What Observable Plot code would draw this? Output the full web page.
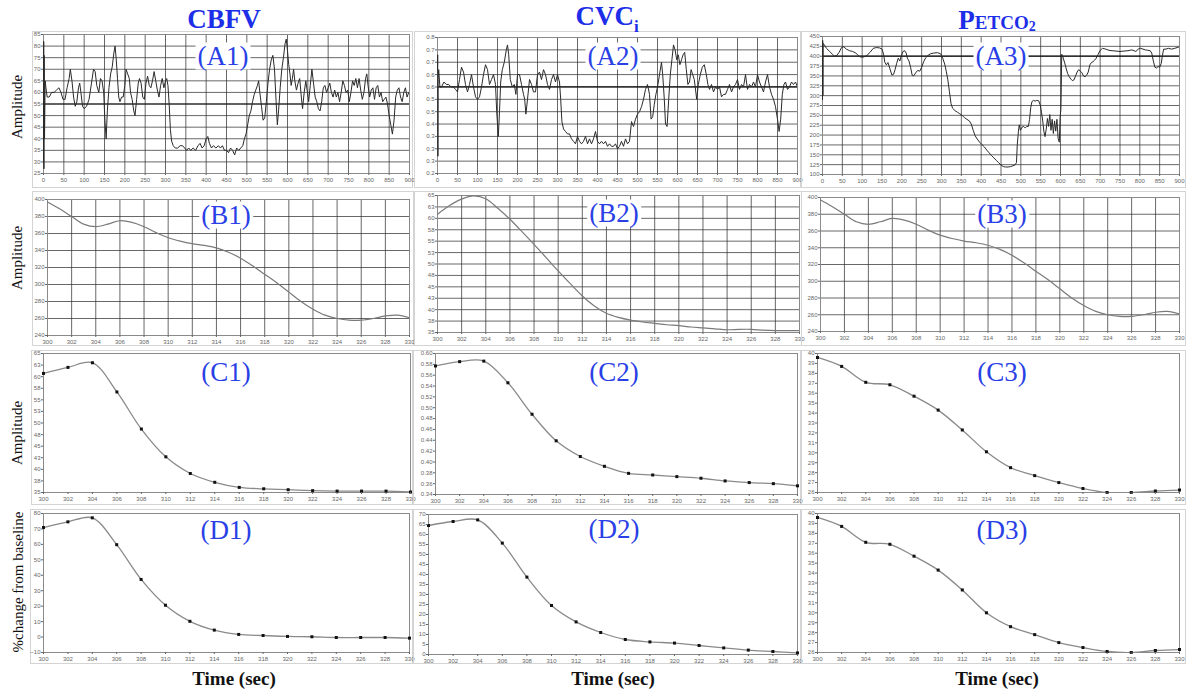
<!DOCTYPE html>
<html>
<head>
<meta charset="utf-8">
<script src="https://cdn.jsdelivr.net/npm/d3@7"></script>
<script src="https://cdn.jsdelivr.net/npm/@observablehq/plot@0.6"></script>
<style>
  body { margin: 0; background: #fff; }
  #fig { position: relative; width: 1187px; height: 689px; overflow: hidden; background: #fff;
         font-family: "Liberation Serif", "Times New Roman", serif; }
  .box { position: absolute; border: 1px solid #d4d4d4; box-sizing: border-box; }
  .panel { position: absolute; }
  .ctr { position: absolute; transform: translate(-50%, -50%); white-space: nowrap; line-height: 1; }
  .title { color: #1c2ee8; font-weight: bold; font-size: 27px; }
  .tag { color: #2a3fe6; font-size: 27px; background: #fff; padding: 0 2px; }
  .ylab { color: #111; font-size: 15px; transform: translate(-50%, -50%) rotate(-90deg); }
  .xlab { color: #111; font-size: 19px; font-weight: bold; }
</style>
</head>
<body>
<div id="fig"></div>
<script>
// ---- tick values ----
const xTicksLong = [0,50,100,150,200,250,300,350,400,450,500,550,600,650,700,750,800,850,900];
const xTicksShort = [300,302,304,306,308,310,312,314,316,318,320,322,324,326,328,330];
const yTicksCbfvRaw = [25,30,35,40,45,50,55,60,65,70,75,80,85];
const yTicksCvcRaw = [0.2,0.25,0.3,0.35,0.4,0.45,0.5,0.55,0.6,0.65,0.7,0.75];
const yTicksCo2Raw = [100,125,150,175,200,225,250,275,300,325,350,375,400,425,450];
const yTicksB13 = [240,260,280,300,320,340,360,380,400];
const yTicksB2C1 = [35,37.5,40,42.5,45,47.5,50,52.5,55,57.5,60,62.5,65];
const yTicksC2 = [0.34,0.36,0.38,0.4,0.42,0.44,0.46,0.48,0.5,0.52,0.54,0.56,0.58,0.6];
const yTicksCo2Short = [26,27,28,29,30,31,32,33,34,35,36,37,38,39,40];
const yTicksD1 = [-10,0,10,20,30,40,50,60,70,80];
const yTicksD2 = [0,5,10,15,20,25,30,35,40,45,50,55,60,65,70];

// ---- full recordings, 0-900 s : [time, value] ----
const cbfvRaw = [[0,30],[0.5,82],[1,27],[1.5,76],[2.5,40],[4,65],[6,62],[9,58],[14,58],[20,60],[26,60],[32,61],[38,62],[43,60],[48,57],[53,57],[58,62],[63,66],[66,70],[70,65],[74,58],[78,54],[82,56],[86,62],[89,64],[92,60],[96,54],[100,53],[106,54],[112,57],[118,64],[123,70],[127,69],[131,63],[136,60],[140,66],[144,65],[148,60],[151,48],[154,40],[157,52],[161,62],[165,68],[169,71],[173,77],[176,80],[179,74],[182,66],[185,58],[188,56],[192,58],[196,58],[200,63],[203,70],[207,68],[211,66],[214,60],[218,57],[222,52],[225,50],[229,57],[233,64],[236,66],[240,64],[244,58],[248,57],[252,64],[256,67],[260,63],[264,62],[268,65],[272,69],[276,65],[280,61],[284,58],[288,63],[292,66],[296,62],[300,65],[303,66],[306,63],[309,55],[312,44],[315,39],[319,37],[324,36],[330,36],[336,37],[342,37],[347,36],[352,35],[357,36],[362,35],[368,36],[374,35],[380,37],[385,38],[390,36],[395,37],[400,40],[404,41],[408,38],[413,36],[418,37],[424,36],[430,37],[435,36],[440,37],[445,35],[450,35],[455,34],[460,36],[465,35],[470,33],[475,36],[480,35],[485,36],[490,37],[494,40],[498,42],[502,46],[506,50],[510,52],[514,56],[518,59],[522,61],[526,63],[529,65],[532,60],[536,54],[540,48],[544,49],[548,56],[552,64],[556,70],[560,74],[564,76],[568,70],[572,56],[575,46],[578,52],[582,62],[586,70],[590,75],[594,81],[597,83],[600,78],[603,72],[606,68],[609,63],[612,66],[615,70],[618,65],[622,61],[626,64],[630,66],[634,58],[637,53],[641,60],[645,65],[649,60],[652,56],[656,63],[660,70],[664,64],[668,58],[672,56],[676,53],[680,52],[684,56],[688,62],[692,63],[696,60],[700,62],[704,64],[708,60],[712,58],[716,61],[720,58],[724,60],[728,56],[732,60],[736,65],[740,63],[744,60],[748,61],[752,56],[756,60],[760,65],[764,63],[768,66],[772,62],[776,66],[780,61],[784,57],[788,60],[792,66],[795,68],[798,63],[802,58],[806,61],[810,62],[814,57],[818,62],[822,63],[826,58],[830,60],[834,56],[838,57],[842,58],[846,55],[850,50],[854,46],[858,42],[862,48],[866,58],[870,61],[874,62],[878,58],[882,56],[886,60],[890,62],[894,58],[898,60],[900,59]];

const cvcRaw = [[0,0.62],[0.5,0.68],[1,0.27],[1.5,0.58],[3,0.62],[6,0.55],[10,0.55],[16,0.57],[22,0.56],[28,0.56],[34,0.55],[40,0.55],[45,0.54],[50,0.53],[55,0.58],[60,0.63],[65,0.61],[70,0.56],[75,0.53],[80,0.56],[85,0.6],[90,0.55],[95,0.51],[100,0.5],[105,0.51],[110,0.55],[115,0.6],[120,0.64],[125,0.62],[130,0.56],[135,0.58],[140,0.6],[145,0.56],[148,0.45],[152,0.35],[155,0.45],[158,0.57],[162,0.62],[167,0.65],[172,0.7],[175,0.72],[178,0.68],[182,0.58],[187,0.55],[192,0.56],[196,0.52],[200,0.6],[205,0.6],[210,0.56],[215,0.52],[218,0.5],[221,0.44],[225,0.5],[230,0.58],[235,0.56],[240,0.53],[245,0.53],[250,0.6],[255,0.61],[260,0.58],[265,0.62],[270,0.6],[275,0.56],[280,0.54],[285,0.58],[290,0.6],[295,0.57],[300,0.6],[305,0.57],[308,0.5],[311,0.41],[315,0.38],[320,0.37],[325,0.36],[330,0.36],[335,0.34],[340,0.33],[345,0.32],[350,0.35],[355,0.33],[360,0.32],[365,0.33],[370,0.35],[375,0.32],[380,0.34],[385,0.32],[390,0.34],[395,0.37],[400,0.33],[405,0.32],[410,0.33],[415,0.32],[420,0.33],[425,0.31],[430,0.32],[435,0.31],[440,0.31],[445,0.32],[450,0.3],[455,0.31],[460,0.33],[465,0.31],[470,0.34],[475,0.32],[480,0.33],[485,0.41],[490,0.39],[495,0.42],[500,0.44],[505,0.45],[510,0.47],[515,0.5],[520,0.54],[525,0.56],[530,0.52],[534,0.42],[538,0.43],[542,0.48],[546,0.52],[550,0.55],[555,0.6],[560,0.65],[563,0.6],[567,0.5],[570,0.4],[574,0.39],[578,0.5],[582,0.6],[586,0.66],[590,0.72],[594,0.7],[598,0.66],[602,0.68],[606,0.64],[610,0.66],[614,0.68],[618,0.69],[622,0.62],[626,0.56],[630,0.57],[634,0.62],[638,0.6],[642,0.58],[648,0.5],[652,0.56],[657,0.6],[662,0.63],[667,0.64],[672,0.6],[676,0.56],[680,0.54],[685,0.56],[690,0.53],[695,0.55],[700,0.54],[705,0.55],[710,0.51],[715,0.52],[720,0.52],[725,0.54],[730,0.56],[735,0.53],[740,0.55],[745,0.56],[750,0.58],[755,0.54],[760,0.56],[765,0.55],[770,0.6],[775,0.54],[780,0.56],[785,0.55],[790,0.57],[795,0.55],[800,0.6],[805,0.57],[810,0.55],[815,0.53],[820,0.57],[825,0.6],[830,0.55],[835,0.52],[840,0.5],[845,0.47],[850,0.42],[854,0.37],[858,0.42],[862,0.52],[866,0.56],[870,0.57],[875,0.54],[880,0.55],[885,0.57],[890,0.56],[895,0.57],[900,0.55]];

const co2Raw = [[0,290],[0.5,440],[1,300],[1.5,432],[4,430],[10,420],[18,412],[25,405],[30,400],[36,402],[42,410],[48,422],[54,424],[60,418],[68,414],[76,412],[84,408],[90,402],[96,398],[104,398],[112,402],[120,410],[128,420],[136,422],[144,421],[150,418],[154,405],[157,385],[161,378],[165,384],[170,368],[175,352],[179,354],[183,366],[187,382],[191,395],[195,388],[199,402],[203,412],[207,414],[211,408],[214,395],[218,388],[222,372],[226,352],[230,350],[235,358],[240,364],[245,362],[250,372],[255,386],[260,396],[266,402],[272,406],[280,408],[290,409],[298,406],[303,395],[308,380],[312,362],[316,340],[320,310],[324,280],[328,268],[334,262],[340,258],[346,254],[352,250],[358,244],[364,240],[370,236],[375,228],[380,212],[385,198],[390,190],[396,182],[402,176],[408,170],[414,162],[420,155],[426,148],[432,142],[438,136],[444,130],[450,124],[456,120],[462,119],[468,119],[474,120],[480,122],[485,124],[489,130],[491,175],[494,210],[496,226],[499,212],[503,220],[507,222],[511,218],[515,222],[519,222],[522,240],[525,270],[528,285],[532,288],[536,286],[540,288],[545,287],[549,276],[552,258],[555,238],[558,210],[561,196],[564,215],[567,242],[570,222],[573,252],[576,212],[579,240],[582,204],[585,236],[588,210],[591,240],[594,192],[597,182],[599,245],[601,265],[602,320],[603,405],[606,398],[610,385],[614,370],[618,356],[622,348],[626,342],[630,338],[634,340],[638,350],[642,360],[646,366],[650,362],[654,358],[658,350],[662,348],[666,352],[670,360],[674,378],[678,384],[682,386],[686,390],[690,395],[695,405],[700,415],[706,420],[714,418],[722,415],[730,414],[740,413],[750,412],[760,413],[770,414],[780,416],[790,412],[796,418],[802,420],[808,418],[814,416],[820,415],[826,414],[830,408],[834,388],[838,372],[842,370],[846,374],[850,372],[854,382],[857,402],[860,418],[866,418],[872,420],[880,418],[888,420],[894,422],[900,424]];

// ---- 300-330 s window, continuous trace : [time, value] ----
const cbfvWindow = [[300,397],[301,389],[302,380],[303,371],[304,368],[305,371],[306,375],[307,373],[308,368],[309,361],[310,355],[311,351],[312,348],[313,346],[314,343],[315,338],[316,331],[317,322],[318,312],[319,302],[320,291],[321,280],[322,271],[323,264],[324,260],[325,258],[326,258],[327,260],[328,263],[329,264],[330,261]];
const cvcWindow = [[300,60.9],[301,62.8],[302,64.2],[303,64.9],[304,64.3],[305,62.2],[306,59.8],[307,57.1],[308,54.3],[309,51.4],[310,48.5],[311,45.7],[312,43],[313,40.8],[314,39.2],[315,38.3],[316,37.7],[317,37.3],[318,37],[319,36.7],[320,36.5],[321,36.2],[322,36],[323,35.8],[324,35.6],[325,35.7],[326,35.7],[327,35.5],[328,35.4],[329,35.4],[330,35.4]];
const co2Window = [[300,397],[301,389],[302,380],[303,371],[304,368],[305,371],[306,375],[307,373],[308,368],[309,361],[310,355],[311,351],[312,348],[313,346],[314,343],[315,338],[316,331],[317,322],[318,312],[319,302],[320,291],[321,280],[322,271],[323,264],[324,260],[325,258],[326,258],[327,260],[328,263],[329,264],[330,261]];

// ---- 2-s samples, 300-330 s ----
const sampleTimes = [300,302,304,306,308,310,312,314,316,318,320,322,324,326,328,330];
const cbfvSamples = [60.7,62.0,63.0,56.7,48.7,42.7,39.1,37.2,36.1,35.8,35.6,35.4,35.3,35.3,35.3,35.1];
const cvcSamples = [0.577,0.585,0.586,0.546,0.488,0.439,0.410,0.392,0.379,0.376,0.373,0.370,0.365,0.362,0.360,0.356];
const co2Samples = [39.6,38.7,37.1,36.85,35.7,34.3,32.3,30.1,28.5,27.7,27.0,26.4,26.0,26.0,26.15,26.25];
const cbfvPctChange = [70.9,74.6,77.2,59.8,37.3,20.6,10.2,4.5,1.7,1.0,0.4,0.2,-0.3,-0.3,-0.3,-0.7];
const cvcPctChange = [64.5,66.5,67.3,55.7,38.7,24.5,16.3,11.0,7.5,6.3,5.7,4.5,3.3,2.2,1.5,0.8];
const co2PctChange = [39.6,38.7,37.1,36.9,35.7,34.3,32.3,30.0,28.6,27.8,27.0,26.5,26.1,26.0,26.2,26.3];

const pairs = arr => arr.map(([t, v]) => ({t, v}));
const sampled = vals => sampleTimes.map((t, i) => ({t, v: vals[i]}));

const fig = document.getElementById("fig");

function addPanel(cfg) {
  const [bl, bt, br, bb] = cfg.box;
  const [x0, y0, x1, y1] = cfg.area;
  const frame = document.createElement("div");
  frame.className = "box";
  Object.assign(frame.style, {left: bl + "px", top: bt + "px", width: (br - bl) + "px", height: (bb - bt) + "px"});
  fig.appendChild(frame);

  const marks = [];
  if (cfg.grid) {
    marks.push(Plot.gridX(cfg.xTicks, {stroke: "#2c2c2c", strokeOpacity: 0.8, strokeWidth: 0.9}));
    marks.push(Plot.gridY(cfg.yTicks, {stroke: "#2c2c2c", strokeOpacity: 0.8, strokeWidth: 0.9}));
  }
  if (cfg.baseline != null) marks.push(Plot.ruleY([cfg.baseline], {stroke: "#111", strokeWidth: 1.2}));
  marks.push(Plot.frame({stroke: "#8a8a8a"}));
  marks.push(Plot.line(cfg.data, {x: "t", y: "v", stroke: cfg.stroke, strokeWidth: cfg.strokeWidth,
                                   curve: cfg.curve || "linear", clip: true}));
  if (cfg.dots) marks.push(Plot.dot(cfg.data, {x: "t", y: "v", symbol: "square", r: 1.7, fill: "#111", stroke: "none"}));
  marks.push(Plot.axisX(cfg.xTicks, {tickSize: 2, tickPadding: 2, label: null, stroke: "#666"}));
  marks.push(Plot.axisY(cfg.yTicks, {tickSize: 2, tickPadding: 1, label: null, stroke: "#666"}));

  const svg = Plot.plot({
    width: br - bl, height: bb - bt,
    marginLeft: x0 - bl, marginRight: br - x1, marginTop: y0 - bt, marginBottom: bb - y1,
    x: {domain: cfg.xDomain},
    y: {domain: cfg.yDomain},
    style: {fontSize: "6px", fontFamily: "'Liberation Sans', Arial, sans-serif", color: "#666",
            background: "transparent", overflow: "visible"},
    marks
  });
  svg.classList.add("panel");
  Object.assign(svg.style, {left: bl + "px", top: bt + "px"});
  fig.appendChild(svg);
}

const panelsCfg = [
  // row A: whole recordings
  {box: [32, 31, 413, 188], area: [43, 34, 409, 173], data: pairs(cbfvRaw), xDomain: [0, 900], yDomain: [25, 85],
   xTicks: xTicksLong, yTicks: yTicksCbfvRaw, grid: true, baseline: 55, stroke: "#2a2a2a", strokeWidth: 1},
  {box: [414, 31, 801, 188], area: [437, 37, 797, 173], data: pairs(cvcRaw), xDomain: [0, 900], yDomain: [0.2, 0.75],
   xTicks: xTicksLong, yTicks: yTicksCvcRaw, grid: true, baseline: 0.55, stroke: "#2a2a2a", strokeWidth: 1},
  {box: [801, 31, 1186, 188], area: [822, 36, 1179, 174], data: pairs(co2Raw), xDomain: [0, 900], yDomain: [100, 450],
   xTicks: xTicksLong, yTicks: yTicksCo2Raw, grid: true, baseline: 400, stroke: "#2a2a2a", strokeWidth: 1},
  // row B: 300-330 s trace
  {box: [32, 191, 414, 346], area: [47, 199, 409, 335], data: pairs(cbfvWindow), xDomain: [300, 330], yDomain: [240, 400],
   xTicks: xTicksShort, yTicks: yTicksB13, grid: true, stroke: "#7a7a7a", strokeWidth: 1.2, curve: "catmull-rom"},
  {box: [414, 191, 802, 346], area: [437, 195, 799, 332], data: pairs(cvcWindow), xDomain: [300, 330], yDomain: [35, 65],
   xTicks: xTicksShort, yTicks: yTicksB2C1, grid: true, stroke: "#7a7a7a", strokeWidth: 1.2, curve: "catmull-rom"},
  {box: [801, 191, 1186, 346], area: [820, 197, 1179, 331], data: pairs(co2Window), xDomain: [300, 330], yDomain: [240, 400],
   xTicks: xTicksShort, yTicks: yTicksB13, grid: true, stroke: "#7a7a7a", strokeWidth: 1.2, curve: "catmull-rom"},
  // row C: 2-s samples
  {box: [31, 350, 413, 505], area: [43, 353, 410, 492], data: sampled(cbfvSamples), xDomain: [300, 330], yDomain: [35, 65],
   xTicks: xTicksShort, yTicks: yTicksB2C1, dots: true, stroke: "#8a8a8a", strokeWidth: 1.3, curve: "catmull-rom"},
  {box: [413, 350, 801, 505], area: [435, 353, 797, 494], data: sampled(cvcSamples), xDomain: [300, 330], yDomain: [0.34, 0.6],
   xTicks: xTicksShort, yTicks: yTicksC2, dots: true, stroke: "#8a8a8a", strokeWidth: 1.3, curve: "catmull-rom"},
  {box: [801, 350, 1186, 505], area: [817, 353, 1179, 492], data: sampled(co2Samples), xDomain: [300, 330], yDomain: [26, 40],
   xTicks: xTicksShort, yTicks: yTicksCo2Short, dots: true, stroke: "#8a8a8a", strokeWidth: 1.3, curve: "catmull-rom"},
  // row D: % change from baseline
  {box: [30, 509, 413, 664], area: [43, 513, 409, 652], data: sampled(cbfvPctChange), xDomain: [300, 330], yDomain: [-10, 80],
   xTicks: xTicksShort, yTicks: yTicksD1, dots: true, stroke: "#8a8a8a", strokeWidth: 1.3, curve: "catmull-rom"},
  {box: [413, 509, 801, 664], area: [428, 514, 797, 654], data: sampled(cvcPctChange), xDomain: [300, 330], yDomain: [0, 70],
   xTicks: xTicksShort, yTicks: yTicksD2, dots: true, stroke: "#8a8a8a", strokeWidth: 1.3, curve: "catmull-rom"},
  {box: [801, 509, 1186, 664], area: [817, 513, 1179, 652], data: sampled(co2PctChange), xDomain: [300, 330], yDomain: [26, 40],
   xTicks: xTicksShort, yTicks: yTicksCo2Short, dots: true, stroke: "#8a8a8a", strokeWidth: 1.3, curve: "catmull-rom"}
];
panelsCfg.forEach(addPanel);

// ---- text ----
function addText(html, cls, x, y) {
  const el = document.createElement("div");
  el.className = "ctr " + cls;
  el.innerHTML = html;
  Object.assign(el.style, {left: x + "px", top: y + "px"});
  fig.appendChild(el);
}
addText("CBFV", "title", 224, 19);
addText("CVC<sub style=\"font-size:17px\">i</sub>", "title", 607, 19);
addText("P<span style=\"font-size:19px\">ETCO</span><sub style=\"font-size:14px;vertical-align:-2px\">2</sub>", "title", 997, 20);

const tags = [["(A1)", 223, 56], ["(A2)", 613, 56], ["(A3)", 1001, 56],
              ["(B1)", 226, 215], ["(B2)", 614, 213], ["(B3)", 1002, 214],
              ["(C1)", 226, 372], ["(C2)", 614, 372], ["(C3)", 1002, 372],
              ["(D1)", 226, 530], ["(D2)", 614, 529], ["(D3)", 1002, 530]];
tags.forEach(([s, x, y]) => addText(s, "tag", x, y));

addText("Amplitude", "ylab", 17, 107);
addText("Amplitude", "ylab", 17, 258);
addText("Amplitude", "ylab", 17, 433);
addText("%change from baseline", "ylab", 18, 582);

addText("Time (sec)", "xlab", 234, 678);
addText("Time (sec)", "xlab", 613, 678);
addText("Time (sec)", "xlab", 997, 678);
</script>
</body>
</html>
